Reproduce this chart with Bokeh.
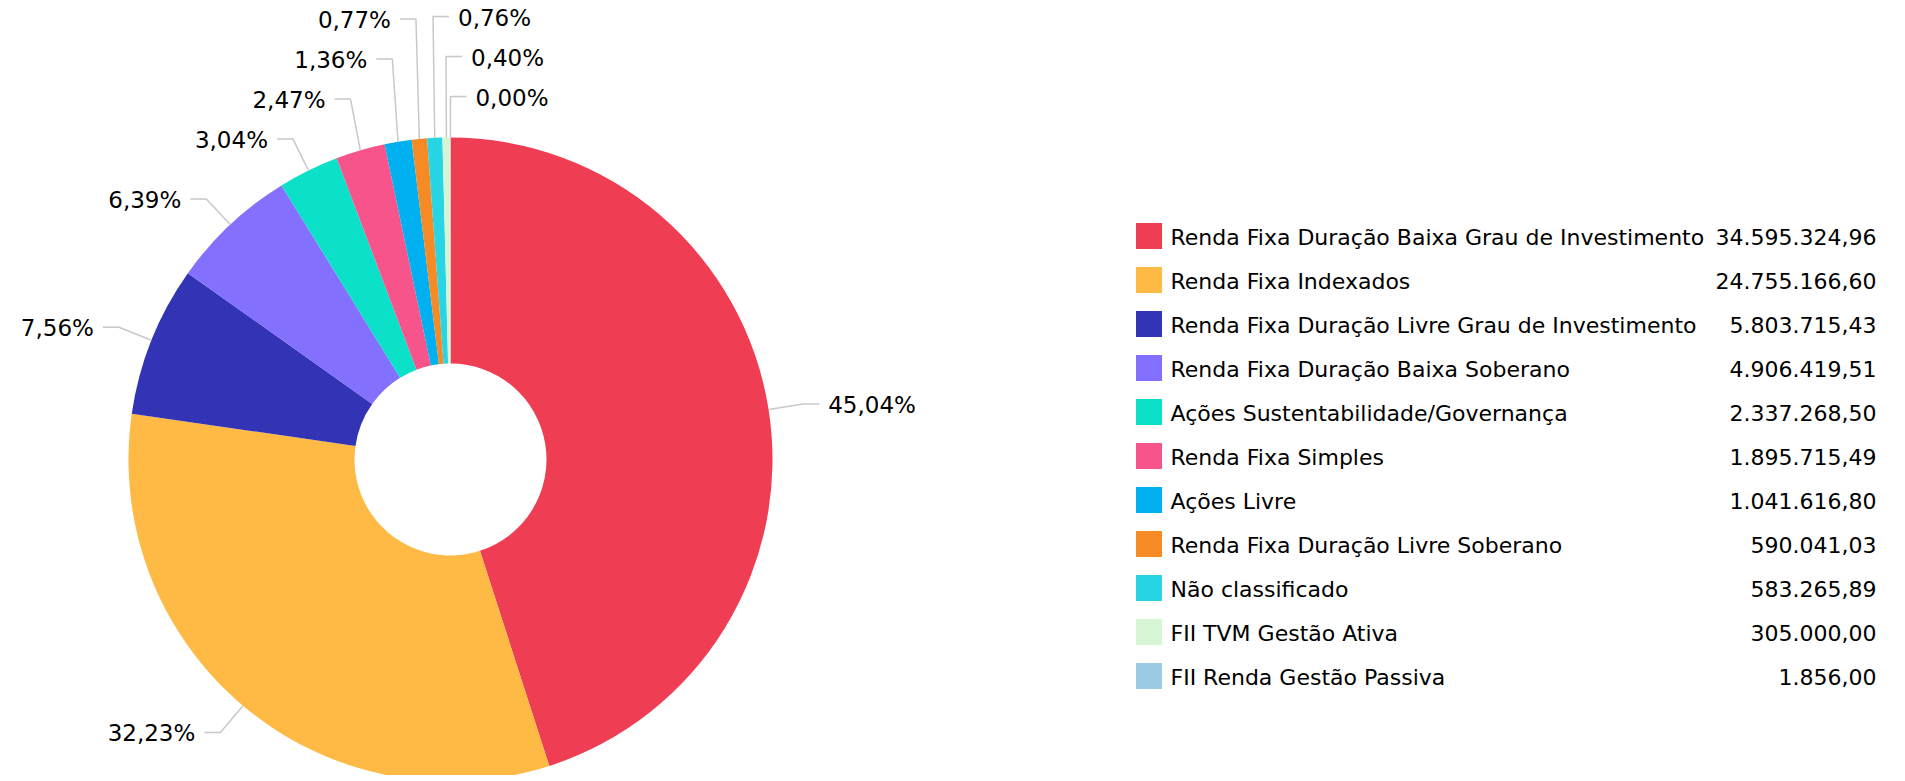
import math
from bokeh.plotting import figure
from bokeh.models import Range1d, ColumnDataSource
from bokeh.core.properties import value
from bokeh.embed import file_html
from bokeh.resources import INLINE

# ---------------- data ----------------
names = [
    "Renda Fixa Duração Baixa Grau de Investimento",
    "Renda Fixa Indexados",
    "Renda Fixa Duração Livre Grau de Investimento",
    "Renda Fixa Duração Baixa Soberano",
    "Ações Sustentabilidade/Governança",
    "Renda Fixa Simples",
    "Ações Livre",
    "Renda Fixa Duração Livre Soberano",
    "Não classificado",
    "FII TVM Gestão Ativa",
    "FII Renda Gestão Passiva",
]
amounts = [34595324.96, 24755166.60, 5803715.43, 4906419.51, 2337268.50,
           1895715.49, 1041616.80, 590041.03, 583265.89, 305000.00, 1856.00]
colors = ["#EF3D54", "#FFBA45", "#3333B5", "#8470FF", "#0BE0C8", "#F8548C",
          "#00B0F0", "#F68B26", "#27D5E5", "#D5F5D5", "#9ACBE2"]

# ---------------- layout (screen pixel coords) ----------------
W, H = 1889, 775
SCREEN_H = 781
cx, cy = 450, 459
r_out, r_in = 322, 96
dist = 35
step = 40
ymin = 16
FONT = value("DejaVu Sans")
FS = "22px"
FS_LBL = "23px"
TXT = "#000000"


def sy(y):
    return SCREEN_H - y


def br(v):
    s = f"{v:,.2f}"
    return s.replace(",", "X").replace(".", ",").replace("X", ".")


total = sum(amounts)
fracs = [a / total for a in amounts]
starts, ends, mids = [], [], []
c = 0.0
for f in fracs:
    starts.append(c)
    c += f
    ends.append(c)
    mids.append((starts[-1] + c) / 2 * 2 * math.pi)

p = figure(width=W, height=H, x_range=Range1d(0, W), y_range=Range1d(SCREEN_H - H, SCREEN_H),
           output_backend="svg", toolbar_location=None, min_border=0,
           x_axis_location=None, y_axis_location=None)
p.grid.visible = False
p.outline_line_color = None
p.background_fill_color = "white"

# pie
wsrc = ColumnDataSource(dict(
    start=[math.pi / 2 - 2 * math.pi * s for s in starts],
    end=[math.pi / 2 - 2 * math.pi * e for e in ends],
    color=colors,
))
p.annular_wedge(x=cx, y=sy(cy), inner_radius=r_in, outer_radius=r_out,
                start_angle="start", end_angle="end", direction="clock",
                fill_color="color", line_color=None, source=wsrc)

# labels
labels = []
for i, th in enumerate(mids):
    nat = cy - (r_out + dist) * math.cos(th)
    side = "right" if math.sin(th) > 0 else "left"
    labels.append(dict(i=i, th=th, nat=nat, side=side, y=None))

left = sorted([l for l in labels if l["side"] == "left"], key=lambda l: -l["nat"])
moved = []
prev = 1e9
for l in left:
    y = min(l["nat"], prev - step)
    if y < ymin:
        moved.append(l)
        continue
    l["y"] = y
    prev = y
right = sorted([l for l in labels if l["side"] == "right"], key=lambda l: l["nat"])
prev = -1e9
for l in right:
    y = max(l["nat"], prev + step)
    l["y"] = y
    prev = y
moved.sort(key=lambda l: l["th"])
for k, l in enumerate(moved):
    l["side"] = "right"
    l["y"] = ymin + step * k

xs, ys, tx, ty, tt, talign = [], [], [], [], [], []
for l in labels:
    th = l["th"]
    ax = cx + r_out * math.sin(th)
    ay = cy - r_out * math.cos(th)
    bx = cx + (r_out + dist) * math.sin(th)
    ly = l["y"]
    sgn = 1 if l["side"] == "right" else -1
    xs.append([ax, bx, bx + sgn * 16])
    ys.append([sy(ay), sy(ly), sy(ly)])
    tx.append(bx + sgn * 25)
    ty.append(sy(ly + 1))
    tt.append(f"{fracs[l['i']] * 100:.2f}".replace(".", ",") + "%")
    talign.append("left" if sgn > 0 else "right")

p.multi_line(xs=xs, ys=ys, line_color="#C8C8C8", line_width=1.5)
p.text(x=tx, y=ty, text=tt, text_align=talign, text_baseline="middle",
       text_font=FONT, text_font_size=FS_LBL, text_color=TXT)

# legend
lx_sw, lx_txt, lx_val = 1148.5, 1170, 1876
ly0, lstep = 235.5, 44.0
row_y = [sy(ly0 + lstep * k) for k in range(len(names))]
p.rect(x=[lx_sw] * len(names), y=row_y, width=26, height=26,
       fill_color=colors, line_color=None)
p.text(x=[lx_txt] * len(names), y=[y - 1 for y in row_y], text=names,
       text_align="left", text_baseline="middle", text_font=FONT,
       text_font_size=FS, text_color=TXT)
p.text(x=[lx_val] * len(names), y=[y - 1 for y in row_y], text=[br(a) for a in amounts],
       text_align="right", text_baseline="middle", text_font=FONT,
       text_font_size=FS, text_color=TXT)

open("out.html", "w").write(file_html(p, INLINE))
